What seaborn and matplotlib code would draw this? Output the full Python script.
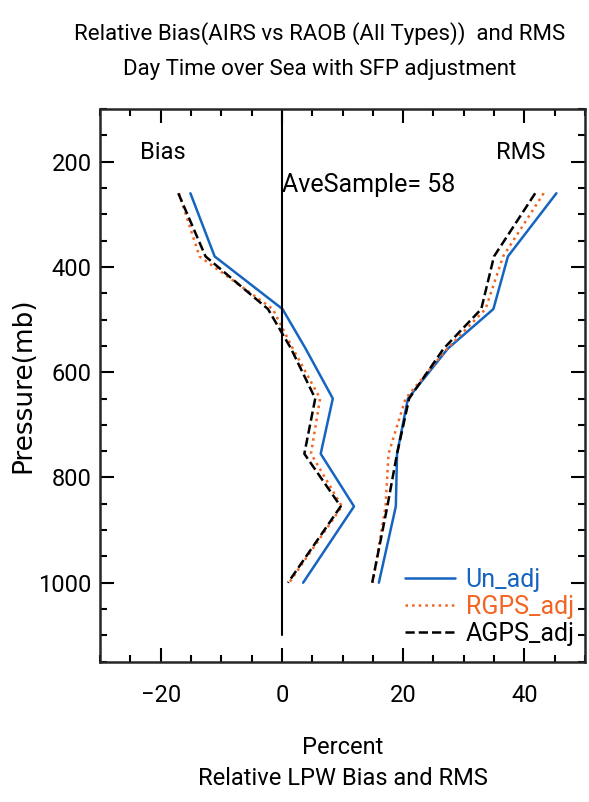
import matplotlib
matplotlib.use("Agg")
import matplotlib.pyplot as plt
import seaborn as sns
import pandas as pd

# --- Daten ---
levels = [260, 380, 480, 555, 650, 755, 855, 1000]

bias_un = [-15.1, -11.1, 0.1, 3.9, 8.4, 6.4, 11.9, 3.5]
bias_rgps = [-17.0, -13.6, -1.5, 1.8, 6.3, 4.8, 9.9, 1.2]
bias_agps = [-17.1, -12.6, -2.3, 1.5, 5.5, 3.7, 9.7, 1.0]

rms_un = [45.3, 37.3, 34.9, 27.4, 20.8, 19.0, 18.8, 16.0]
rms_rgps = [43.2, 36.5, 33.6, 27.3, 20.4, 17.6, 17.1, 15.0]
rms_agps = [41.8, 35.0, 32.9, 26.7, 21.0, 19.0, 17.4, 14.9]

series_names = ['Un_adj', 'RGPS_adj', 'AGPS_adj']
colors = {'Un_adj': '#1565C0', 'RGPS_adj': '#F26522', 'AGPS_adj': 'black'}
styles = {'Un_adj': '-', 'RGPS_adj': ':', 'AGPS_adj': '--'}

sns.set_style("ticks")
plt.rcParams['font.family'] = ['Roboto', 'DejaVu Sans']
plt.rcParams['text.color'] = 'black'
plt.rcParams['axes.labelcolor'] = 'black'
plt.rcParams['xtick.color'] = 'black'
plt.rcParams['ytick.color'] = 'black'

FS = 17

fig = plt.figure(figsize=(5.89, 8.02), dpi=100)
ax = fig.add_axes([0.170, 0.175, 0.823, 0.689])

data_sets = {
    'Un_adj': (bias_un, rms_un),
    'RGPS_adj': (bias_rgps, rms_rgps),
    'AGPS_adj': (bias_agps, rms_agps),
}

handles = []
for name in series_names:
    b, r = data_sets[name]
    for part, vals in (('bias', b), ('rms', r)):
        df = pd.DataFrame({'val': vals, 'p': levels})
        sns.lineplot(data=df, x='val', y='p', orient='y', sort=False, ax=ax,
                     color=colors[name], linestyle=styles[name], linewidth=1.8)
    handles.append(ax.lines[-1])

ax.plot([0, 0], [100, 1100], color='black', linewidth=1.5)

ax.set_xlim(-30, 50)
ax.set_ylim(1150, 100)
ax.set_xticks([-20, 0, 20, 40])
ax.set_xticks(range(-30, 51, 5), minor=True)
ax.set_yticks([200, 400, 600, 800, 1000])
ax.set_yticks(range(100, 1151, 50), minor=True)
ax.tick_params(which='both', direction='in', top=True, right=True, width=1.5,
               labelsize=FS)
ax.tick_params(axis='x', which='major', pad=16)
ax.tick_params(axis='y', which='major', pad=6)
ax.tick_params(which='major', length=10)
ax.tick_params(which='minor', length=5)
for sp in ax.spines.values():
    sp.set_linewidth(1.8)

ax.set_xlabel('Percent\nRelative LPW Bias and RMS', fontsize=FS, linespacing=1.45)
ax.xaxis.set_label_coords(0.5, -0.135, transform=ax.transAxes)
ax.xaxis.label.set_va('top')
ax.set_ylabel('Pressure(mb)', fontsize=19, family='DejaVu Sans')
ax.yaxis.set_label_coords(-0.158, 0.50)
ax.yaxis.label.set_va('center')

ax.text(-23.4, 183, 'Bias', fontsize=FS, va='center', ha='left')
ax.text(35.3, 183, 'RMS', fontsize=FS, va='center', ha='left')
ax.text(0, 245, 'AveSample= 58', fontsize=18, va='center', ha='left')

leg = ax.legend(handles, series_names, loc='upper left',
                bbox_to_anchor=(0.629, 0.17), frameon=False, fontsize=18,
                handlelength=2.0, handletextpad=0.42, labelspacing=0.12,
                borderpad=0, borderaxespad=0,
                labelcolor=[colors[n] for n in series_names])

fig.text(0.543, 0.958, 'Relative Bias(AIRS vs RAOB (All Types))  and RMS',
         ha='center', va='center', fontsize=16)
fig.text(0.543, 0.913, 'Day Time over Sea with SFP adjustment',
         ha='center', va='center', fontsize=16)

fig.savefig('out.png', dpi=100)
